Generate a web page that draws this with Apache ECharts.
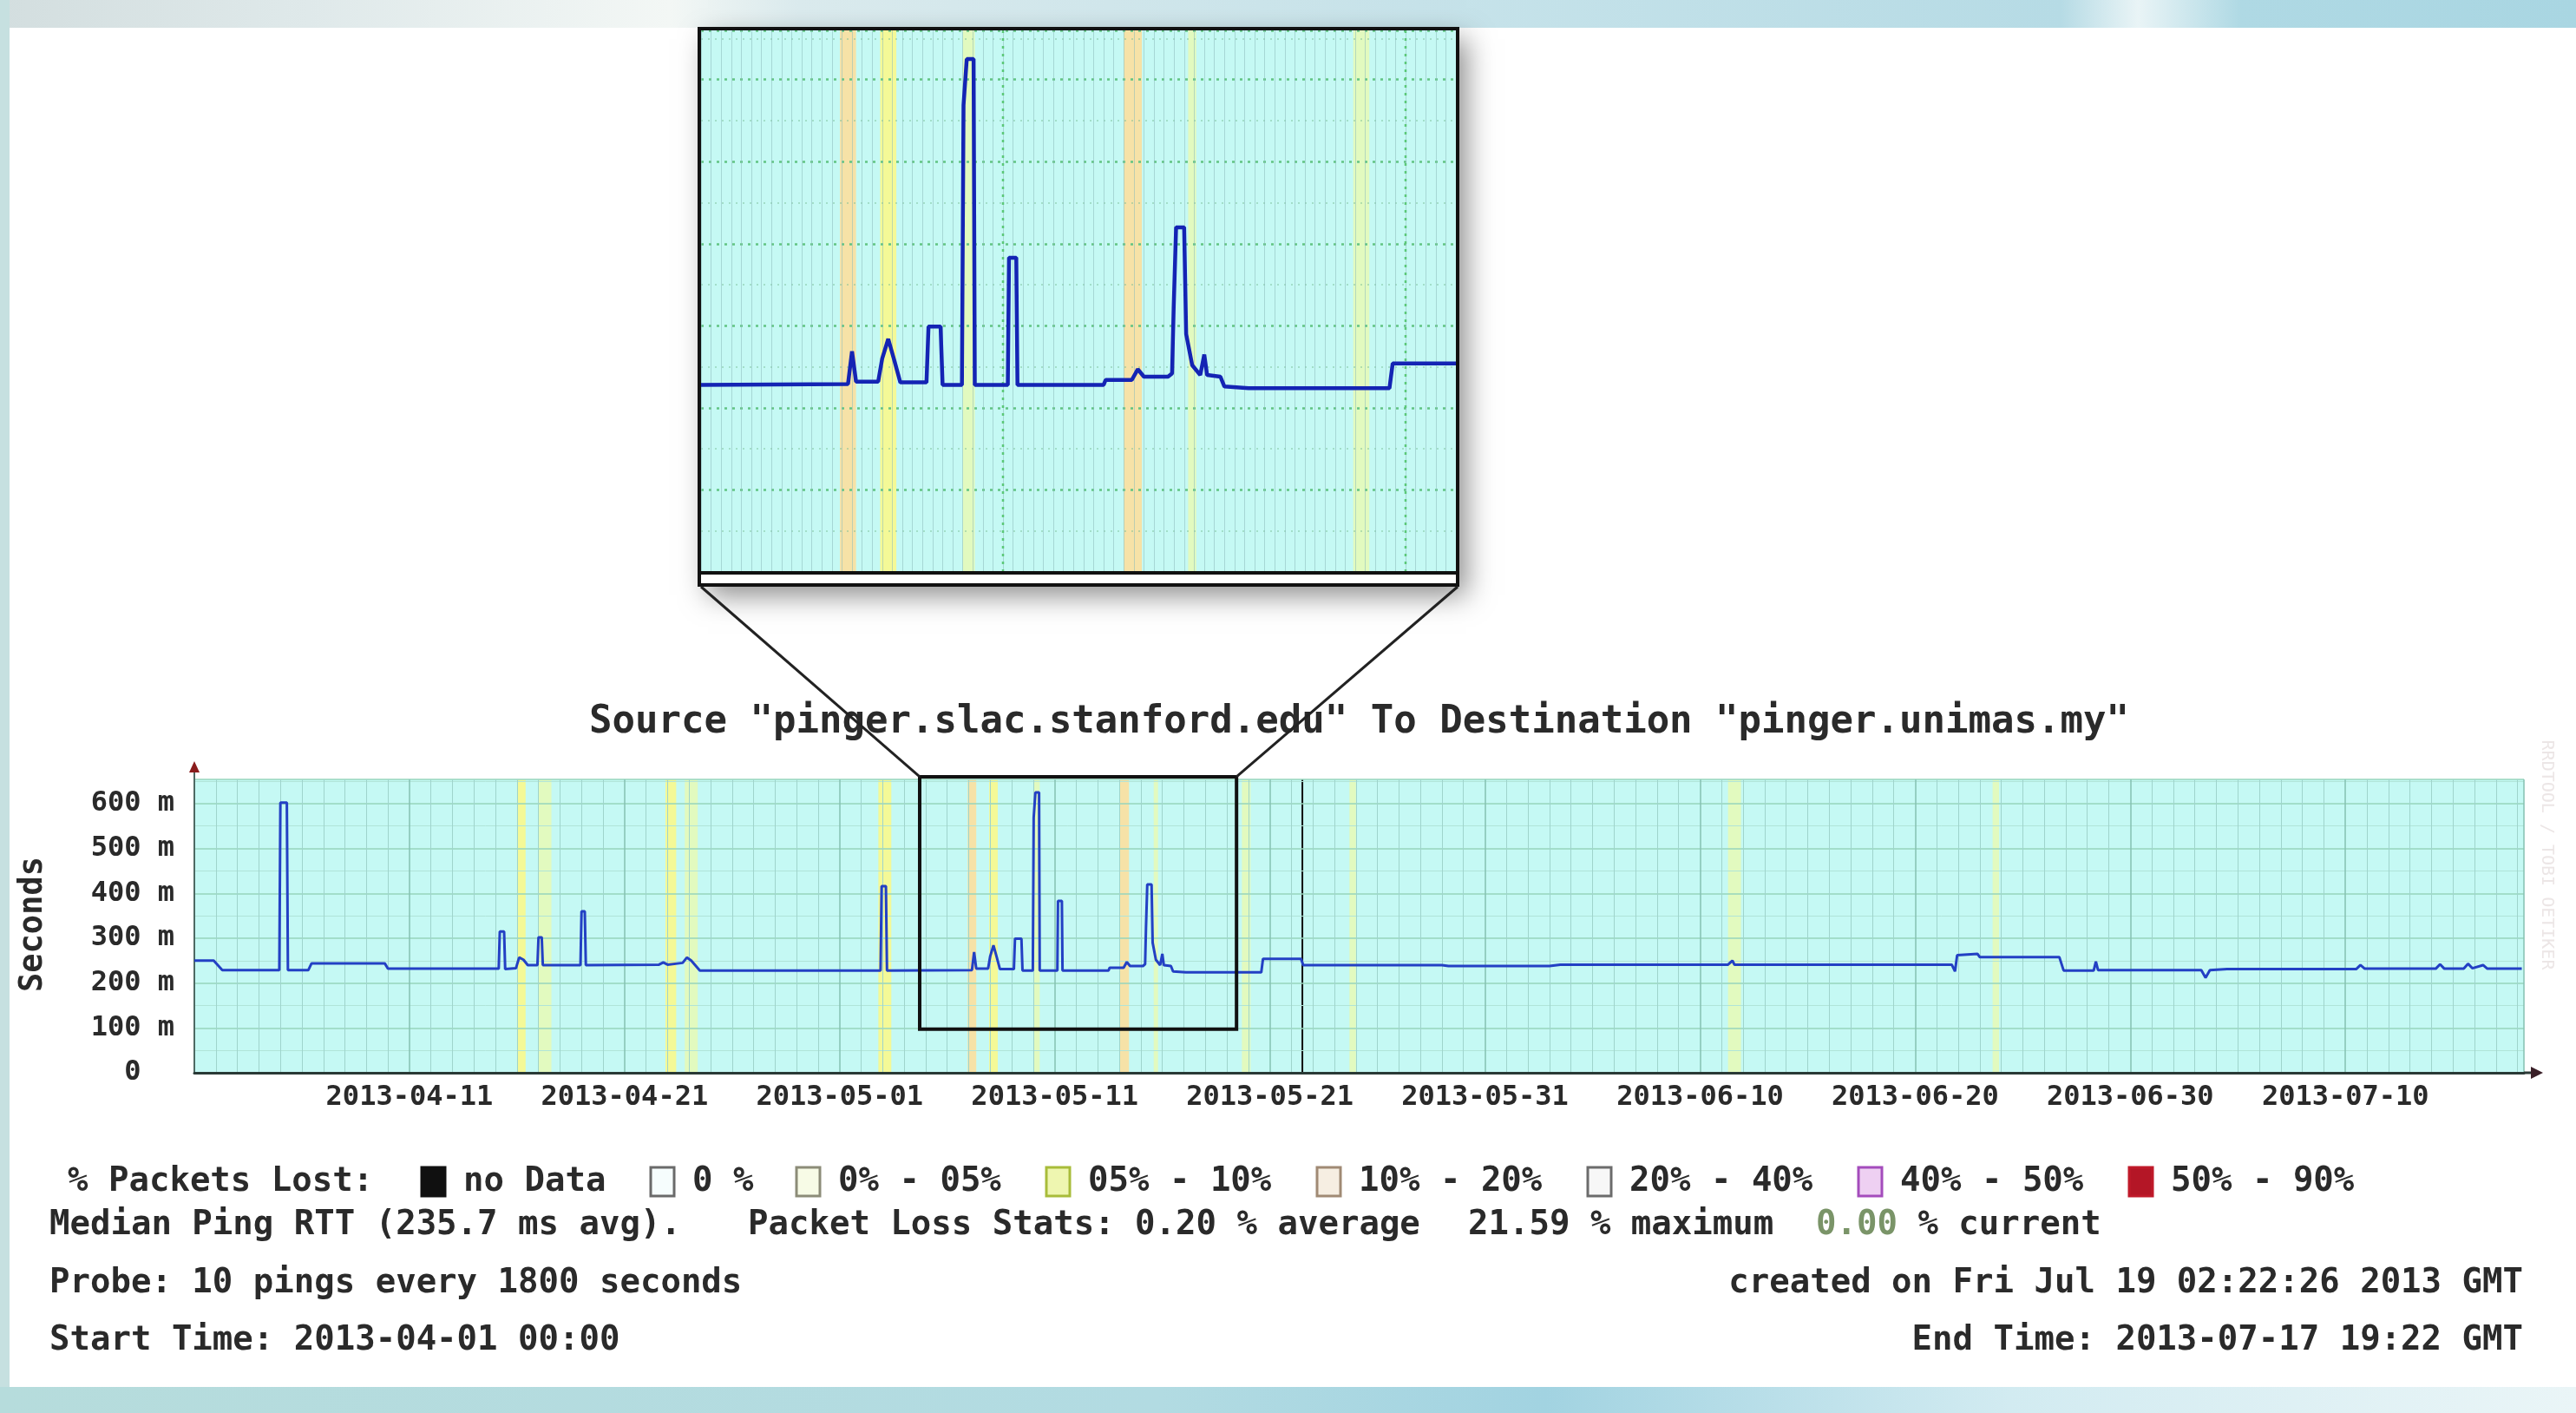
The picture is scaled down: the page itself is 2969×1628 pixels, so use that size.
<!DOCTYPE html>
<html>
<head>
<meta charset="utf-8">
<title>PingER median RTT</title>
<script src="https://cdn.jsdelivr.net/npm/echarts@6.0.0/dist/echarts.min.js"></script>
<style>
html,body{margin:0;padding:0;background:#ffffff;}
#chart{width:2969px;height:1628px;}
</style>
</head>
<body>
<div id="chart"></div>
<script>
// ================= DATA =================
// days since 2013-04-01 00:00 GMT
const rttDays = [
  0, 0.9, 1.3, 3.95, 4.0, 4.3, 4.35, 5.3, 5.45, 8.85, 9.0,
  14.15, 14.2, 14.4, 14.45, 14.95, 15.1, 15.3, 15.5, 15.95, 16.0, 16.15, 16.2,
  17.95, 18.0, 18.15, 18.2, 21.6, 21.8, 22.0, 22.7, 22.9, 23.1, 23.5,
  31.9, 31.95, 32.15, 32.2, 36.15, 36.25, 36.35, 36.9, 37.0, 37.15, 37.3, 37.45,
  38.1, 38.15, 38.45, 38.5, 38.98, 39.02, 39.1, 39.27, 39.3, 40.12, 40.15, 40.33, 40.36,
  42.5, 42.55, 43.2, 43.35, 43.5, 44.1, 44.2, 44.24, 44.3, 44.5, 44.55, 44.7, 44.9, 45.0, 45.07, 45.4, 45.5, 46.1,
  49.6, 49.68, 51.45, 51.55, 58.0, 58.3, 63.0, 63.5, 71.3, 71.5, 71.6,
  81.7, 81.85, 81.95, 82.9, 83.0, 86.7, 86.9, 88.3, 88.4, 88.5,
  93.3, 93.5, 93.7, 94.5, 100.5, 100.7, 100.9, 104.2, 104.4, 104.6,
  105.5, 105.7, 105.9, 106.4, 106.6, 108.2
];
// median ping RTT (ms)
const rttValues = [
  250, 250, 229, 229, 602, 602, 229, 229, 244, 244, 232,
  232, 315, 315, 231, 233, 257, 252, 240, 240, 302, 302, 240,
  240, 360, 360, 240, 241, 246, 241, 245, 257, 250, 228,
  228, 416, 416, 228, 229, 269, 232, 232, 260, 284, 258, 231,
  231, 299, 299, 228, 228, 569, 625, 625, 228, 228, 383, 383, 228,
  228, 234, 234, 247, 238, 238, 242, 322, 420, 420, 290, 252, 240, 265, 240, 238, 226, 224,
  224, 254, 254, 240, 240, 238, 238, 241, 241, 250, 241,
  241, 226, 262, 265, 258, 258, 228, 228, 248, 229,
  229, 212, 229, 231, 231, 240, 232, 232, 242, 232,
  232, 243, 233, 240, 232, 232
];
// packet loss bands (days) and their loss class
const lossBandStart = [15.0, 16.0, 21.9, 22.8, 31.8, 35.95, 36.95, 39.0, 43.0, 44.6, 48.7, 53.7, 71.3, 83.6, 51.47];
const lossBandEnd   = [15.4, 16.6, 22.4, 23.4, 32.4, 36.35, 37.35, 39.3, 43.45, 44.8, 49.1, 54.0, 71.9, 83.9, 51.55];
const lossBandClass = ['05-10', '0-05', '05-10', '0-05', '05-10', '10-20', '05-10', '0-05', '10-20', '0-05', '0-05', '0-05', '0-05', '0-05', 'noData'];

const xTickDays = [10, 20, 30, 40, 50, 60, 70, 80, 90, 100];
const xTickLabels = ['2013-04-11', '2013-04-21', '2013-05-01', '2013-05-11', '2013-05-21',
                     '2013-05-31', '2013-06-10', '2013-06-20', '2013-06-30', '2013-07-10'];
const yTickValues = [0, 100, 200, 300, 400, 500, 600];
const yTickLabels = ['0  ', '100 m', '200 m', '300 m', '400 m', '500 m', '600 m'];
const insetMajorDays = [40, 50];

const lossKeys = ['noData', '0', '0-05', '05-10', '10-20', '20-40', '40-50', '50-90'];
const lossLabels = ['no Data', '0 %', '0% - 05%', '05% - 10%', '10% - 20%', '20% - 40%', '40% - 50%', '50% - 90%'];

const zoomWindowDays = [33.72, 48.45];
const zoomWindowValues = [97, 660];

const titleText = 'Source "pinger.slac.stanford.edu" To Destination "pinger.unimas.my"';
const yAxisTitle = 'Seconds';
const lossTitle = '% Packets Lost:';
const medianText = 'Median Ping RTT (235.7 ms avg).';
const lossStatsText = 'Packet Loss Stats: 0.20 % average';
const lossMaxText = '21.59 % maximum';
const lossCurrentValue = '0.00';
const lossCurrentText = ' % current';
const probeText = 'Probe: 10 pings every 1800 seconds';
const createdText = 'created on Fri Jul 19 02:22:26 2013 GMT';
const startText = 'Start Time: 2013-04-01 00:00';
const endText = 'End Time: 2013-07-17 19:22 GMT';
const watermarkText = 'RRDTOOL / TOBI OETIKER';

// ================= STYLE / LAYOUT =================
const MONO = "'DejaVu Sans Mono', 'Liberation Mono', monospace";
const TXT = '#2a2a2a';
const FW = 'bold';
const MAIN = {left: 224, top: 898, width: 2685, height: 338};
const INSET = {left: 808, top: 35, width: 870, height: 624};
const X_RANGE = [0, 108.3];
const Y_MAX = 654;
const INSET_X = [32.5, 51.25];
const INSET_Y_MAX = 660;
const PLOT_BG = '#c5f9f4';

const bandFill = {
  'noData': '#101010', '0': 'rgba(0,0,0,0)', '0-05': 'rgba(228,250,186,0.92)',
  '05-10': 'rgba(247,248,142,0.92)', '10-20': 'rgba(250,224,160,0.92)',
  '20-40': 'rgba(222,222,222,0.92)', '40-50': 'rgba(232,182,240,0.92)', '50-90': 'rgba(200,30,40,0.92)'
};
const legendFill = {
  'noData': '#101010', '0': '#f6fdfd', '0-05': '#f7fbe6', '05-10': '#eef6b0',
  '10-20': '#f6eee2', '20-40': '#f7f7f7', '40-50': '#eed0f2', '50-90': '#b41626'
};
const legendStroke = {
  'noData': '#101010', '0': '#6a6a6a', '0-05': '#8c8c78', '05-10': '#a8bc3a',
  '10-20': '#a08a74', '20-40': '#6c6c6c', '40-50': '#a44cbc', '50-90': '#c01a2a'
};

// ================= CHART =================
const chart = echarts.init(document.getElementById('chart'), null, {renderer: 'canvas', width: 2969, height: 1628});

const rttData = rttDays.map((d, i) => [d, rttValues[i]]);
const bandData = lossBandStart.map((s, i) => [s, lossBandEnd[i], lossKeys.indexOf(lossBandClass[i])]);
const majorData = insetMajorDays.map(d => [d, 0]);

function renderBand(params, api) {
  const cs = params.coordSys;
  const a = api.coord([api.value(0), 0]);
  const b = api.coord([api.value(1), 0]);
  const shape = echarts.graphic.clipRectByRect(
    {x: a[0], y: cs.y, width: Math.max(b[0] - a[0], 2), height: cs.height},
    {x: cs.x, y: cs.y, width: cs.width, height: cs.height});
  if (!shape) return;
  return {type: 'rect', shape: shape, style: {fill: bandFill[lossKeys[api.value(2)]]}};
}
function renderMajor(params, api) {
  const cs = params.coordSys;
  const a = api.coord([api.value(0), 0]);
  if (a[0] < cs.x || a[0] > cs.x + cs.width) return;
  return {type: 'line', shape: {x1: a[0], y1: cs.y, x2: a[0], y2: cs.y + cs.height},
          style: {stroke: '#5cc878', lineWidth: 2.5, lineDash: [3, 6]}};
}

const option = {
  animation: false,
  backgroundColor: '#ffffff',
  textStyle: {fontFamily: MONO},
  grid: [
    {left: MAIN.left, top: MAIN.top, width: MAIN.width, height: MAIN.height, show: true, backgroundColor: PLOT_BG, borderWidth: 0},
    {left: INSET.left, top: INSET.top, width: INSET.width, height: INSET.height, show: true, backgroundColor: PLOT_BG, borderWidth: 0}
  ],
  xAxis: [
    {
      gridIndex: 0, type: 'value', min: X_RANGE[0], max: X_RANGE[1], interval: 10, z: 3,
      axisLine: {show: true, onZero: false, lineStyle: {color: '#2a3a36', width: 3}},
      axisTick: {show: false},
      axisLabel: {
        show: true, margin: 13, fontFamily: MONO, fontSize: 32, fontWeight: FW, color: TXT, hideOverlap: false,
        formatter: function (v) {
          const i = xTickDays.indexOf(Math.round(v));
          return (i >= 0 && Math.abs(v - xTickDays[i]) < 1e-6) ? xTickLabels[i] : '';
        }
      },
      splitLine: {show: true, lineStyle: {color: '#84c0b2', width: 1.5}},
      minorTick: {show: false, splitNumber: 10},
      minorSplitLine: {show: true, lineStyle: {color: '#9fd4cc', width: 1}}
    },
    {
      gridIndex: 1, type: 'value', min: INSET_X[0], max: INSET_X[1], interval: 0.25, z: 3,
      axisLine: {show: false}, axisTick: {show: false}, axisLabel: {show: false},
      splitLine: {show: true, lineStyle: {color: 'rgba(140,188,188,0.55)', width: 1}}
    }
  ],
  yAxis: [
    {
      gridIndex: 0, type: 'value', min: 0, max: Y_MAX, interval: 100, z: 3,
      axisLine: {show: true, lineStyle: {color: '#4e6a64', width: 2}},
      axisTick: {show: false},
      axisLabel: {
        margin: 23, fontFamily: MONO, fontSize: 32, fontWeight: FW, color: TXT,
        formatter: function (v) { const i = yTickValues.indexOf(v); return i >= 0 ? yTickLabels[i] : ''; }
      },
      splitLine: {show: true, lineStyle: {color: '#96d4bc', width: 1.5}},
      minorTick: {show: false, splitNumber: 2},
      minorSplitLine: {show: true, lineStyle: {color: '#b0e4d8', width: 1}}
    },
    {
      gridIndex: 1, type: 'value', min: 0, max: INSET_Y_MAX, interval: 100, z: 3,
      axisLine: {show: false}, axisTick: {show: false}, axisLabel: {show: false},
      splitLine: {show: true, lineStyle: {color: '#62c483', width: 2.5, type: [3, 6]}},
      minorTick: {show: false, splitNumber: 2},
      minorSplitLine: {show: true, lineStyle: {color: 'rgba(120,190,150,0.6)', width: 1.5, type: [2, 6]}}
    }
  ],
  series: [
    {type: 'custom', name: 'loss', xAxisIndex: 0, yAxisIndex: 0, z: 1, silent: true,
     encode: {x: [0, 1], y: 2}, data: bandData, renderItem: renderBand},
    {type: 'line', name: 'Median RTT', xAxisIndex: 0, yAxisIndex: 0, z: 5, silent: true,
     data: rttData, symbol: 'none', lineStyle: {color: '#2340c4', width: 3}},
    {type: 'custom', name: 'loss inset', xAxisIndex: 1, yAxisIndex: 1, z: 1, silent: true,
     encode: {x: [0, 1], y: 2}, data: bandData, renderItem: renderBand},
    {type: 'custom', name: 'inset major', xAxisIndex: 1, yAxisIndex: 1, z: 4, silent: true,
     encode: {x: 0, y: 1}, data: majorData, renderItem: renderMajor},
    {type: 'line', name: 'Median RTT inset', xAxisIndex: 1, yAxisIndex: 1, z: 5, silent: true, clip: true,
     data: rttData, symbol: 'none', lineStyle: {color: '#1424b4', width: 4.5}}
  ]
};
chart.setOption(option);

// ================= DECORATION / TEXT =================
const zb0 = chart.convertToPixel({gridIndex: 0}, [zoomWindowDays[0], zoomWindowValues[1]]);
const zb1 = chart.convertToPixel({gridIndex: 0}, [zoomWindowDays[1], zoomWindowValues[0]]);
const F = {x: INSET.left - 2, y: INSET.top - 2, w: INSET.width + 4, h: INSET.height + 17};
const yb = MAIN.top + MAIN.height;
const xr = MAIN.left + MAIN.width;

function txt(x, y, text, size, align, extra, color) {
  return Object.assign({type: 'text', z: 19, x: x, y: y,
    style: {text: text, fontFamily: MONO, fontSize: size, fontWeight: FW, fill: color || TXT,
            align: align || 'left', verticalAlign: 'middle'}}, extra || {});
}

const g = [];
// slide background strips
g.push({type: 'rect', z: -10, shape: {x: 0, y: 0, width: 2969, height: 32}, style: {fill: new echarts.graphic.LinearGradient(0, 0, 1, 0, [
  {offset: 0, color: '#d3dedf'}, {offset: 0.12, color: '#dfe9ea'}, {offset: 0.26, color: '#f3f7f5'},
  {offset: 0.31, color: '#dbebee'}, {offset: 0.55, color: '#c7e3ea'}, {offset: 0.8, color: '#b6dbe5'},
  {offset: 0.83, color: '#e9f4f6'}, {offset: 0.87, color: '#afd9e4'}, {offset: 1, color: '#a9d6e2'}])}});
g.push({type: 'rect', z: -10, shape: {x: 0, y: 0, width: 11, height: 1628}, style: {fill: '#c6e0e0'}});
g.push({type: 'rect', z: -10, shape: {x: 0, y: 1598, width: 2969, height: 30}, style: {fill: new echarts.graphic.LinearGradient(0, 0, 1, 0, [
  {offset: 0, color: '#b6dcdc'}, {offset: 0.45, color: '#b2dbe2'}, {offset: 0.6, color: '#a2d3e1'},
  {offset: 0.78, color: '#d2ebf1'}, {offset: 1, color: '#eaf5f7'}])}});

// inset shadow, frame and bottom double line
g.push({type: 'rect', z: -1, shape: {x: F.x, y: F.y, width: F.w, height: F.h},
  style: {fill: '#ffffff', shadowBlur: 30, shadowColor: 'rgba(0,0,0,0.45)', shadowOffsetX: 10, shadowOffsetY: 12}});
g.push({type: 'rect', z: 20, shape: {x: F.x, y: F.y, width: F.w, height: F.h}, style: {fill: 'none', stroke: '#111111', lineWidth: 4}});
g.push({type: 'line', z: 20, shape: {x1: F.x, y1: INSET.top + INSET.height + 1, x2: F.x + F.w, y2: INSET.top + INSET.height + 1},
  style: {stroke: '#111111', lineWidth: 4}});

// axis extensions and arrows
g.push({type: 'line', z: 5, shape: {x1: MAIN.left, y1: MAIN.top, x2: MAIN.left, y2: MAIN.top - 14}, style: {stroke: '#4e6a64', lineWidth: 2}});
g.push({type: 'polygon', z: 5, shape: {points: [[MAIN.left - 6, MAIN.top - 8], [MAIN.left + 6, MAIN.top - 8], [MAIN.left, MAIN.top - 21]]}, style: {fill: '#8a1c1c'}});
g.push({type: 'line', z: 5, shape: {x1: xr, y1: yb, x2: xr + 10, y2: yb}, style: {stroke: '#2a3a36', lineWidth: 3}});
g.push({type: 'polygon', z: 5, shape: {points: [[xr + 8, yb - 7], [xr + 8, yb + 7], [xr + 22, yb]]}, style: {fill: '#3a2028'}});

// titles
g.push(txt(MAIN.left + MAIN.width / 2, 833, titleText, 44, 'center'));
g.push(txt(38, 1065, yAxisTitle, 37, 'center', {rotation: Math.PI / 2}));
g.push({type: 'text', z: 2, x: 2935, y: 985, rotation: -Math.PI / 2,
  style: {text: watermarkText, fontFamily: MONO, fontSize: 20, fill: '#ece6e6', align: 'center', verticalAlign: 'middle'}});

// zoom window + connectors
g.push({type: 'rect', z: 20, shape: {x: zb0[0], y: zb0[1], width: zb1[0] - zb0[0], height: zb1[1] - zb0[1]},
  style: {fill: 'none', stroke: '#111111', lineWidth: 4}});
g.push({type: 'line', z: 20, shape: {x1: zb0[0], y1: zb0[1], x2: F.x + 2, y2: F.y + F.h + 2}, style: {stroke: '#222222', lineWidth: 3}});
g.push({type: 'line', z: 20, shape: {x1: zb1[0], y1: zb0[1], x2: F.x + F.w, y2: F.y + F.h + 2}, style: {stroke: '#222222', lineWidth: 3}});

// packet loss legend
const LEG_Y = 1362, CH = 24, X0 = 54;
g.push(txt(X0 + CH, LEG_Y, lossTitle, 39, 'left'));
let pos = 20;
lossLabels.forEach(function (lab, i) {
  const key = lossKeys[i];
  const tx = X0 + CH * pos;
  g.push({type: 'rect', z: 19, shape: {x: tx - 48, y: LEG_Y - 17, width: 27, height: 33},
    style: {fill: legendFill[key], stroke: legendStroke[key], lineWidth: 3}});
  g.push(txt(tx, LEG_Y, lab, 39, 'left'));
  pos += lab.length + 4;
});

// stats lines
g.push(txt(57, 1412, medianText, 39, 'left'));
g.push(txt(862, 1412, lossStatsText, 39, 'left'));
g.push(txt(1692, 1412, lossMaxText, 39, 'left'));
g.push(txt(2093, 1412, lossCurrentValue, 39, 'left', null, '#7a9468'));
g.push(txt(2093 + 4 * 23.48, 1412, lossCurrentText, 39, 'left'));
g.push(txt(57, 1479, probeText, 39, 'left'));
g.push(txt(2908, 1479, createdText, 39, 'right'));
g.push(txt(57, 1545, startText, 39, 'left'));
g.push(txt(2908, 1545, endText, 39, 'right'));

chart.setOption({graphic: {elements: g}});
</script>
</body>
</html>
